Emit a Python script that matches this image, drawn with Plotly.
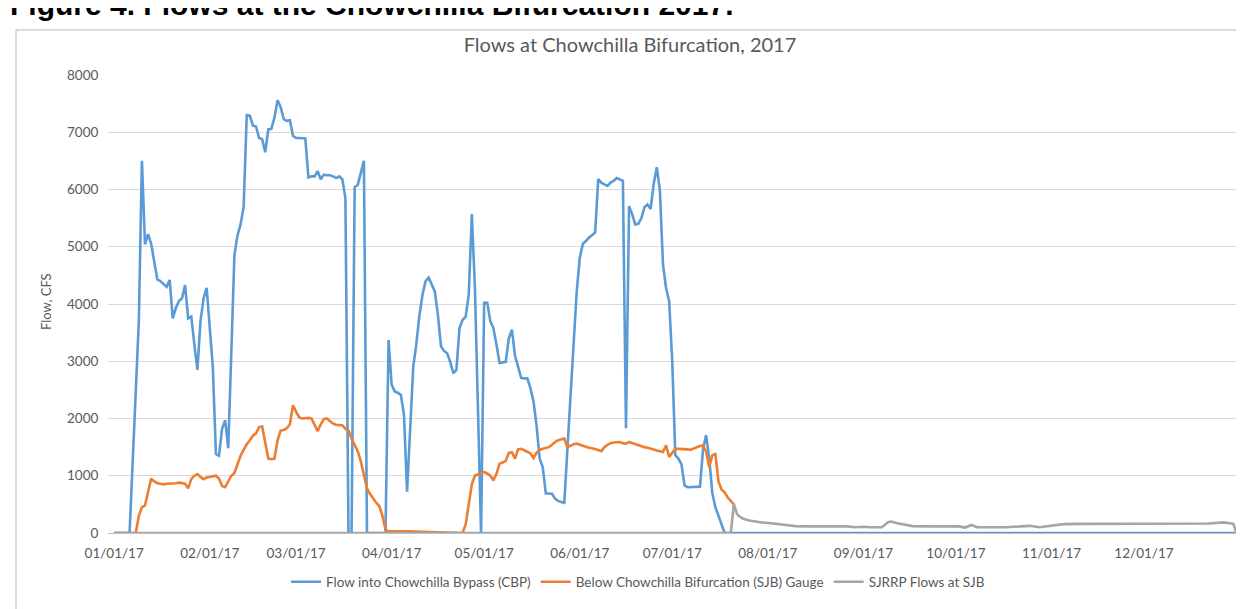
import pandas as pd
import plotly.graph_objects as go

# ---- data (day-of-year offsets from 2017-01-01, flows in CFS) ----
cbp_day = [0, 5, 8, 9, 10, 11, 12, 13, 14, 15, 16, 17, 18, 19, 20, 21, 22, 23, 24, 25, 26, 27, 28, 29, 30,
           31, 32, 33, 34, 35, 36, 37, 38, 39, 40, 41, 42, 43, 44, 45, 46, 47, 48, 49, 50, 51, 52, 53, 54, 55,
           56, 57, 58, 59, 60, 61, 62, 63, 64, 65, 66, 67, 68, 69, 70, 71, 72, 73, 74, 75, 76, 77, 78, 79, 80,
           81, 82, 88, 89, 90, 91, 92, 93, 94, 95, 96, 97, 98, 99, 100, 101, 102, 103, 104, 105, 106, 107, 108,
           109, 110, 111, 112, 113, 114, 115, 116, 117, 118, 119, 120, 121, 122, 123, 124, 125, 126, 127, 128,
           129, 130, 131, 132, 133, 134, 135, 136, 137, 138, 139, 140, 141, 142, 143, 144, 145, 146, 147, 148,
           149, 150, 151, 152, 153, 154, 155, 156, 157, 158, 159, 160, 161, 162, 163, 164, 165, 166, 167, 168,
           169, 170, 171, 172, 173, 174, 175, 176, 177, 178, 179, 180, 181, 182, 183, 184, 185, 186, 187, 188,
           189, 190, 191, 192, 193, 194, 195, 196, 197, 198, 364]
cbp_flow = [0, 0, 3700, 6500, 5040, 5220, 5050, 4700, 4430, 4400, 4350, 4300, 4420, 3750, 3930, 4050, 4100,
            4330, 3750, 3780, 3300, 2850, 3700, 4100, 4280, 3600, 2900, 1380, 1350, 1820, 1970, 1480, 3000,
            4850, 5200, 5390, 5700, 7300, 7290, 7120, 7100, 6900, 6880, 6650, 7050, 7060, 7260, 7560, 7440,
            7230, 7200, 7210, 6940, 6900, 6900, 6900, 6890, 6210, 6230, 6230, 6320, 6180, 6260, 6250, 6250,
            6230, 6200, 6230, 6180, 5850, 0, 0, 6040, 6080, 6300, 6500, 0, 0, 3370, 2590, 2470, 2450, 2410,
            2060, 720, 1900, 2900, 3300, 3800, 4160, 4400, 4460, 4350, 4220, 3810, 3260, 3180, 3140, 2990,
            2790, 2850, 3580, 3720, 3780, 4160, 5570, 4300, 2000, 0, 4020, 4020, 3700, 3580, 3290, 2970, 2980,
            2990, 3400, 3550, 3100, 2900, 2710, 2700, 2700, 2530, 2300, 1880, 1300, 1150, 690, 690, 684, 600,
            560, 540, 526, 1470, 2400, 3300, 4200, 4800, 5050, 5100, 5160, 5200, 5250, 6180, 6120, 6090, 6064,
            6120, 6150, 6200, 6180, 6150, 1830, 5710, 5570, 5390, 5400, 5500, 5690, 5740, 5660, 6100, 6390,
            5980, 4690, 4280, 4050, 3000, 1360, 1300, 1200, 830, 800, 800, 800, 800, 810, 1470, 1710, 1300,
            700, 450, 300, 150, 0, 0]

sjb_day = [0, 7, 8, 9, 10, 11, 12, 13, 14, 15, 16, 17, 18, 19, 20, 21, 22, 23, 24, 25, 26, 27, 28, 29, 30,
           31, 32, 33, 34, 35, 36, 37, 38, 39, 40, 41, 42, 43, 44, 45, 46, 47, 48, 49, 50, 51, 52, 53, 54, 55,
           56, 57, 58, 59, 60, 61, 62, 63, 64, 65, 66, 67, 68, 69, 70, 71, 72, 73, 74, 75, 76, 77, 78, 79, 80,
           81, 82, 83, 84, 85, 86, 87, 88, 89, 95, 100, 105, 110, 113, 114, 115, 116, 117, 118, 119, 120, 121,
           122, 123, 124, 125, 126, 127, 128, 129, 130, 131, 132, 133, 134, 135, 136, 137, 138, 139, 140, 141,
           142, 143, 144, 145, 146, 147, 148, 149, 150, 151, 152, 153, 154, 155, 156, 157, 158, 159, 160, 161,
           162, 163, 164, 165, 166, 167, 168, 169, 170, 171, 172, 173, 174, 175, 176, 177, 178, 179, 180, 181,
           182, 183, 184, 185, 186, 187, 188, 189, 190, 191, 192, 193, 194, 195, 196, 197, 198, 199, 200, 201]
sjb_flow = [0, 0, 300, 450, 480, 700, 950, 900, 870, 860, 850, 860, 860, 860, 870, 880, 870, 860, 780, 940,
            1000, 1030, 980, 940, 970, 980, 980, 1000, 950, 820, 800, 900, 1000, 1050, 1200, 1350, 1450, 1550,
            1620, 1700, 1740, 1850, 1860, 1600, 1300, 1290, 1300, 1620, 1790, 1800, 1830, 1900, 2230, 2120,
            2020, 2000, 2010, 2010, 2000, 1880, 1780, 1900, 1990, 2000, 1950, 1910, 1890, 1890, 1880, 1820,
            1790, 1650, 1550, 1430, 1250, 1000, 780, 680, 600, 530, 470, 300, 60, 30, 30, 25, 20, 15, 0, 150,
            500, 850, 1000, 1030, 1050, 1064, 1040, 1000, 920, 1035, 1210, 1230, 1260, 1400, 1410, 1300, 1460,
            1470, 1450, 1420, 1390, 1310, 1400, 1450, 1470, 1480, 1500, 1540, 1590, 1620, 1640, 1650, 1500,
            1530, 1550, 1560, 1540, 1520, 1500, 1490, 1480, 1470, 1450, 1430, 1500, 1540, 1570, 1580, 1590,
            1590, 1570, 1560, 1590, 1570, 1550, 1530, 1510, 1500, 1490, 1480, 1460, 1440, 1430, 1415, 1530,
            1330, 1400, 1470, 1470, 1470, 1470, 1460, 1455, 1480, 1500, 1520, 1530, 1420, 1150, 1360, 1380,
            900, 760, 710, 620, 560, 500]

sjrrp_day = [0, 200, 201, 202, 203, 204, 206, 208, 210, 213, 215, 218, 221, 225, 230, 235, 238, 240, 243,
             245, 249, 251, 252, 254, 256, 259, 265, 270, 274, 276, 278, 280, 285, 289, 294, 297, 300, 305,
             308, 313, 320, 325, 331, 337, 343, 349, 355, 360, 363, 364]
sjrrp_flow = [0, 0, 510, 330, 280, 250, 220, 200, 185, 170, 160, 140, 120, 115, 115, 115, 115, 100, 110,
              100, 100, 190, 200, 170, 150, 120, 115, 115, 115, 95, 140, 100, 100, 100, 115, 125, 100, 140,
              155, 160, 160, 160, 165, 155, 160, 165, 165, 185, 160, 0]

series_names = ["Flow into Chowchilla Bypass (CBP)",
                "Below Chowchilla Bifurcation (SJB) Gauge",
                "SJRRP Flows at SJB"]
series_colors = ["#5B9BD5", "#ED7D31", "#A5A5A5"]

start = pd.Timestamp("2017-01-01")


def to_dates(days):
    return [start + pd.Timedelta(days=d) for d in days]


FONT = "Lato, Carlito, Calibri, sans-serif"
GREY = "#595959"

fig = go.Figure()
for days, vals, name, col in zip([cbp_day, sjb_day, sjrrp_day],
                                 [cbp_flow, sjb_flow, sjrrp_flow],
                                 series_names, series_colors):
    fig.add_trace(go.Scatter(x=to_dates(days), y=vals, mode="lines", name=name,
                             line=dict(color=col, width=2.6)))

L, R, T, B = 100, 14, 67, 84
W, H = 1244, 609
pw, ph = W - L - R, H - T - B


def px_x(x):
    return (x - L) / pw


def px_y(y):
    return (H - B - y) / ph


fig.update_layout(
    width=W, height=H,
    margin=dict(l=L, r=R, t=T, b=B, autoexpand=False),
    paper_bgcolor="white", plot_bgcolor="white",
    font=dict(family=FONT, color=GREY, size=13.5),
    title=dict(text="Flows at Chowchilla Bifurcation, 2017", x=0.5, xanchor="center",
               y=1 - 37 / H, yanchor="middle", font=dict(size=20, color=GREY, family=FONT)),
    showlegend=True,
    legend=dict(orientation="h", x=px_x(630), xanchor="center", y=px_y(574), yanchor="middle",
                font=dict(size=13.5, color=GREY, family=FONT), itemwidth=30,
                bgcolor="rgba(0,0,0,0)"),
    xaxis=dict(type="date", range=["2016-12-30", "2017-12-31 12:00"], tick0="2017-01-01",
               dtick="M1", tickformat="%m/%d/%y", showgrid=False, zeroline=False,
               showline=True, linecolor="#BFBFBF", linewidth=1,
               ticks="outside", ticklen=8, tickcolor="rgba(0,0,0,0)",
               tickfont=dict(size=13.5, color=GREY, family=FONT)),
    yaxis=dict(range=[0, 8000], dtick=1000, showgrid=True, gridcolor="#D9D9D9", gridwidth=1,
               zeroline=False, showline=False, tickformat="d",
               ticks="outside", ticklen=6, tickcolor="rgba(0,0,0,0)",
               tickfont=dict(size=13.5, color=GREY, family=FONT)),
    shapes=[dict(type="rect", xref="paper", yref="paper",
                 x0=px_x(8), x1=px_x(1240), y0=px_y(603), y1=px_y(22),
                 line=dict(color="#D0D0D0", width=1.5), fillcolor="rgba(0,0,0,0)", layer="below")],
    annotations=[
        dict(text="Flow, CFS", xref="paper", yref="paper", x=px_x(38), y=px_y(294),
             xanchor="center", yanchor="middle", textangle=-90, showarrow=False,
             font=dict(size=13, color=GREY, family=FONT)),
        dict(text="<b>Figure 4. Flows at the Chowchilla Bifurcation 2017.</b>", xref="paper",
             yref="paper", x=px_x(0), y=px_y(15), xanchor="left", yanchor="bottom", showarrow=False,
             font=dict(size=30, color="black", family="Liberation Sans, Arial, sans-serif")),
    ],
)

fig.write_html("out.html")
